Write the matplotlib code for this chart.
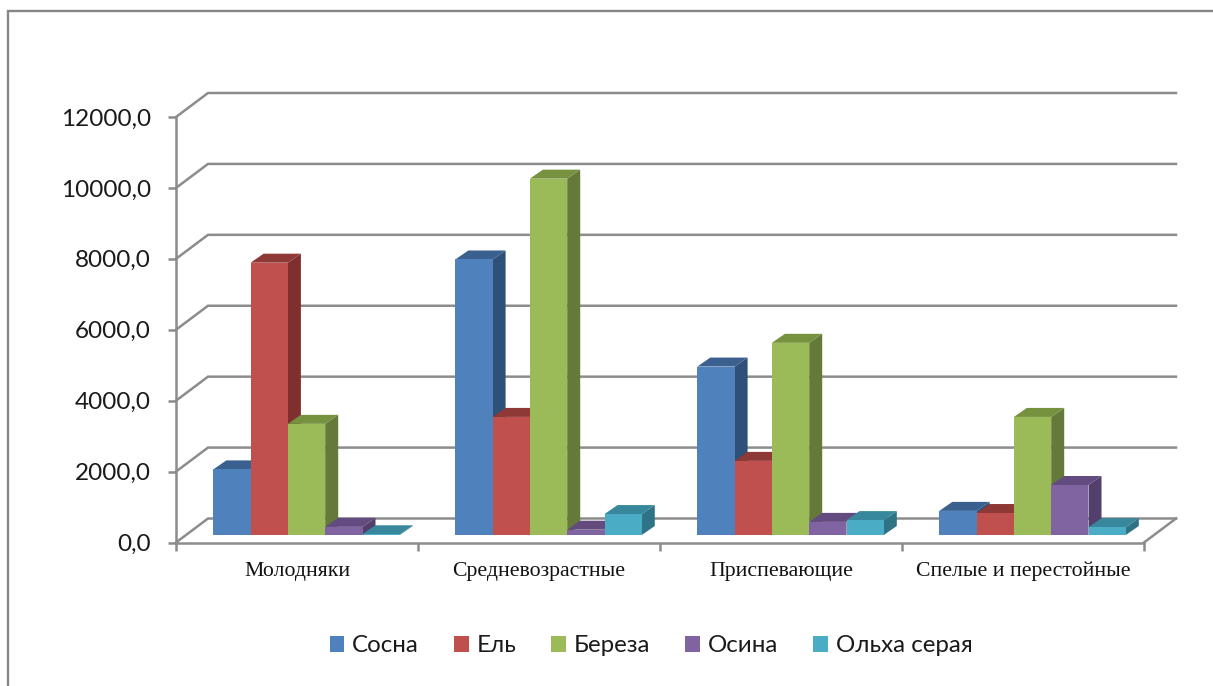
import matplotlib
matplotlib.use('Agg')
import matplotlib.pyplot as plt
from matplotlib.lines import Line2D
from matplotlib.patches import Patch
import numpy as np

categories = ['Молодняки', 'Средневозрастные', 'Приспевающие', 'Спелые и перестойные']
species = ['Сосна', 'Ель', 'Береза', 'Осина', 'Ольха серая']
sosna = [1850, 7770, 4750, 680]
el = [7680, 3330, 2090, 620]
bereza = [3135, 10050, 5420, 3330]
osina = [230, 150, 370, 1410]
olkha = [20, 590, 420, 220]
y_ticks = [0, 2000, 4000, 6000, 8000, 10000, 12000]

front_colors = ['#4F81BD', '#C0504D', '#9BBB59', '#8064A2', '#4BACC6']
top_colors = ['#3A6090', '#8F3936', '#76923F', '#634B80', '#37879D']
side_colors = ['#2F5078', '#7F302E', '#64793A', '#533F6C', '#2E7386']
grid_color = '#8C8C8C'

W, H = 1213, 686
fig = plt.figure(figsize=(W / 100, H / 100), dpi=100)
fig.patch.set_facecolor('white')

# the axes box is the front plane of the fake 3d chart
ax_left, ax_right, ax_top, ax_bottom = 176, 1144, 117, 542.5
ax = fig.add_axes([ax_left / W, 1 - ax_bottom / H, (ax_right - ax_left) / W, (ax_bottom - ax_top) / H])
ax.set_xlim(0, 4)
ax.set_ylim(0, 12000)
px_x = 4 / (ax_right - ax_left)
px_y = 12000 / (ax_bottom - ax_top)

# walls: diagonal + back line for each grid value
back_dx = 32 * px_x
back_dy = 24 * px_y
for v in y_ticks:
    ax.plot([0, back_dx, 4 + back_dx], [v, v + back_dy, v + back_dy], color=grid_color, lw=1.8,
            clip_on=False, zorder=1, solid_joinstyle='miter')
ax.plot([4, 4 + back_dx], [0, back_dy], color=grid_color, lw=1.8, clip_on=False, zorder=1)

# bars
series = [sosna, el, bereza, osina, olkha]
bar_w = 37.3 * px_x
bar_dx = 13 * px_x
bar_dy = 9 * px_y
base = 7.5 * px_y
start = 37.3 * px_x
z = 3
for c in range(len(categories)):
    for s in range(len(series)):
        x0 = c + start + s * bar_w
        x1 = x0 + bar_w
        top = base + series[s][c]
        ax.fill([x1, x1 + bar_dx, x1 + bar_dx, x1], [base, base + bar_dy, top + bar_dy, top],
                color=side_colors[s], lw=0, clip_on=False, zorder=z)
        ax.fill([x0, x1, x1 + bar_dx, x0 + bar_dx], [top, top, top + bar_dy, top + bar_dy],
                color=top_colors[s], lw=0, clip_on=False, zorder=z)
        ax.bar(x0, series[s][c], bar_w, bottom=base, align='edge', color=front_colors[s], lw=0,
               clip_on=False, zorder=z + 0.5)
        z += 1

for side in ['top', 'right']:
    ax.spines[side].set_visible(False)
for side in ['left', 'bottom']:
    ax.spines[side].set_color(grid_color)
    ax.spines[side].set_linewidth(1.8)
    ax.spines[side].set_zorder(200)

ax.set_yticks(y_ticks)
ax.set_yticklabels([f'{v},0' for v in y_ticks], fontsize=17.5, family=['Lato', 'Noto Sans'], color='#1a1a1a')
ax.set_xticks([0, 1, 2, 3, 4])
ax.set_xticklabels([])
ax.tick_params(axis='both', color=grid_color, width=1.8, length=6)
ax.tick_params(axis='y', pad=12)
for i, name in enumerate(categories):
    ax.annotate(name, (i + 0.5, 0), xytext=(0, -29), textcoords='offset pixels', ha='center', va='center',
                fontsize=15.7, family='Liberation Serif', color='#111111', annotation_clip=False)

# legend
handles = [Patch(facecolor=front_colors[i], edgecolor='none', label=species[i]) for i in range(5)]
fig.legend(handles=handles, loc='center', bbox_to_anchor=(651 / W, 1 - 646 / H), ncols=5, frameon=False,
           prop={'family': ['Lato', 'Noto Sans'], 'size': 17.4}, handlelength=0.6, handleheight=0.6,
           handletextpad=0.32, columnspacing=1.46, labelcolor='#1a1a1a')

# chart area border, cropped on the right and at the bottom
fig.add_artist(Line2D([7.5 / W, 7.5 / W, 1], [0, 1 - 11 / H, 1 - 11 / H], color='#868686', lw=1.7,
                      transform=fig.transFigure, solid_joinstyle='miter'))

fig.savefig('out.png', dpi=100)
